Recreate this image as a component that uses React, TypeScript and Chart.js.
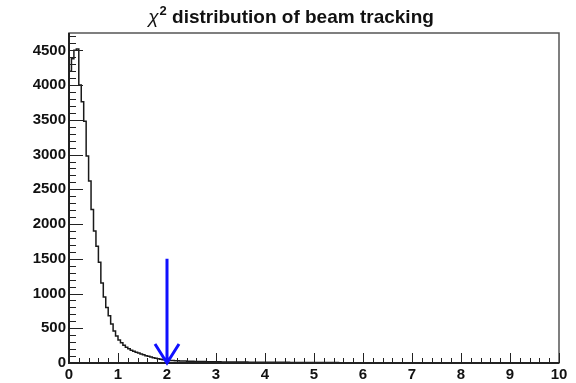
import React, { useEffect, useRef } from "react";
import { Chart, registerables } from "chart.js";

Chart.register(...registerables);

const TITLE_SYMBOL = "χ";
const TITLE_SUP = "2";
const TITLE_REST = " distribution of beam tracking";

// histogram: 200 bins of width 0.05 from 0 to 10
const BIN_LOW = 0;
const BIN_WIDTH = 0.05;
const counts: number[] = [
  4000, 4200, 4380, 4500, 4520, 4000, 3760, 3480, 2980, 2620,
  2210, 1900, 1680, 1450, 1150, 950, 800, 680, 560, 460,
  390, 330, 290, 255, 228, 205, 185, 168, 155, 143,
  130, 118, 106, 96, 86, 77, 68, 60, 53, 47,
  43, 40, 37, 35, 33, 31, 29, 28, 27, 26,
  25, 24, 23, 22, 21, 21, 20, 19, 19, 18,
  18, 17, 17, 16, 16, 15, 15, 15, 14, 14,
  14, 13, 13, 13, 12, 12, 12, 12, 11, 11,
  11, 11, 10, 10, 10, 10, 9, 9, 9, 9,
  9, 8, 8, 8, 8, 8, 8, 7, 7, 7,
  7, 7, 7, 6, 6, 6, 6, 6, 6, 6,
  6, 5, 5, 5, 5, 5, 5, 5, 5, 5,
  5, 4, 4, 4, 4, 4, 4, 4, 4, 4,
  4, 4, 3, 3, 3, 3, 3, 3, 3, 3,
  3, 3, 3, 3, 3, 3, 2, 2, 2, 2,
  2, 2, 2, 2, 2, 2, 2, 2, 2, 2,
  2, 2, 2, 2, 1, 1, 2, 1, 1, 1,
  1, 1, 1, 1, 1, 1, 1, 1, 1, 1,
  1, 1, 1, 1, 1, 1, 1, 1, 1, 0,
  1, 1, 0, 1, 1, 0, 1, 0, 1, 1,
];

const X_MIN = 0;
const X_MAX = 10;
const Y_MIN = 0;
const Y_MAX = 4750;

const xTicks: number[] = [0, 1, 2, 3, 4, 5, 6, 7, 8, 9, 10];
const xMinorStep = 0.2;
const yTicks: number[] = [0, 500, 1000, 1500, 2000, 2500, 3000, 3500, 4000, 4500];
const yMinorStep = 100;

// cut arrow
const ARROW_X = 2;
const ARROW_TOP = 1500;
const ARROW_BOTTOM = 0;

const FAMILY = "'Liberation Sans', Arial, sans-serif";
const TICK_FONT = { family: FAMILY, size: 15, weight: "bold" as const };

const framePlugin = {
  id: "rootFrame",
  afterDatasetsDraw(chart: any) {
    const { ctx, chartArea: a, scales } = chart;
    const xs = scales.x;
    const ys = scales.y;
    ctx.save();
    // frame
    ctx.strokeStyle = "#555";
    ctx.lineWidth = 1.5;
    ctx.strokeRect(a.left, a.top, a.right - a.left, a.bottom - a.top);
    // axes (thicker)
    ctx.strokeStyle = "#222";
    ctx.lineWidth = 2;
    ctx.beginPath();
    ctx.moveTo(a.left, a.top);
    ctx.lineTo(a.left, a.bottom);
    ctx.lineTo(a.right, a.bottom);
    ctx.stroke();

    // ticks (inward)
    ctx.lineWidth = 1;
    ctx.strokeStyle = "#222";
    ctx.beginPath();
    const nxMinor = Math.round((X_MAX - X_MIN) / xMinorStep);
    for (let i = 0; i <= nxMinor; i++) {
      const v = X_MIN + i * xMinorStep;
      const px = Math.round(xs.getPixelForValue(v)) + 0.5;
      const major = xTicks.some((t) => Math.abs(t - v) < 1e-6);
      const len = major ? 10 : 5;
      ctx.moveTo(px, a.bottom);
      ctx.lineTo(px, a.bottom - len);
    }
    const nyMinor = Math.floor((Y_MAX - Y_MIN) / yMinorStep);
    for (let i = 0; i <= nyMinor; i++) {
      const v = Y_MIN + i * yMinorStep;
      const py = Math.round(ys.getPixelForValue(v)) + 0.5;
      const major = yTicks.some((t) => Math.abs(t - v) < 1e-6);
      const len = major ? 14 : 7;
      ctx.moveTo(a.left, py);
      ctx.lineTo(a.left + len, py);
    }
    ctx.stroke();

    // arrow
    const ax = xs.getPixelForValue(ARROW_X);
    const aTop = ys.getPixelForValue(ARROW_TOP);
    const aBot = ys.getPixelForValue(ARROW_BOTTOM);
    ctx.strokeStyle = "#1010ff";
    ctx.lineWidth = 3;
    ctx.lineCap = "butt";
    ctx.beginPath();
    ctx.moveTo(ax, aTop);
    ctx.lineTo(ax, aBot);
    ctx.moveTo(ax - 12, aBot - 19);
    ctx.lineTo(ax, aBot);
    ctx.lineTo(ax + 12, aBot - 19);
    ctx.stroke();

    // title: italic chi, superscript 2, bold rest, centred as a whole
    const fSym = `italic 19px ${FAMILY}`;
    const fSup = `bold 13px ${FAMILY}`;
    const fRest = `bold 19px ${FAMILY}`;
    ctx.font = fSym;
    const wSym = ctx.measureText(TITLE_SYMBOL).width;
    ctx.font = fSup;
    const wSup = ctx.measureText(TITLE_SUP).width;
    ctx.font = fRest;
    const wRest = ctx.measureText(TITLE_REST).width;
    const total = wSym + 1 + wSup + wRest;
    let x = 291 - total / 2;
    const base = 23;
    ctx.fillStyle = "#111";
    ctx.textAlign = "left";
    ctx.textBaseline = "alphabetic";
    ctx.font = fSym;
    ctx.fillText(TITLE_SYMBOL, x, base);
    x += wSym + 1;
    ctx.font = fSup;
    ctx.fillText(TITLE_SUP, x, base - 8);
    x += wSup;
    ctx.font = fRest;
    ctx.fillText(TITLE_REST, x, base);
    ctx.restore();
  },
};

export default function App() {
  const ref = useRef<HTMLCanvasElement | null>(null);
  useEffect(() => {
    if (!ref.current) return;
    const points: { x: number; y: number }[] = [{ x: BIN_LOW, y: 0 }];
    counts.forEach((c, i) => points.push({ x: BIN_LOW + i * BIN_WIDTH, y: c }));
    points.push({ x: BIN_LOW + counts.length * BIN_WIDTH, y: counts[counts.length - 1] });

    const chart = new Chart(ref.current, {
      type: "line",
      data: {
        datasets: [
          {
            data: points,
            stepped: "after",
            borderColor: "#1a1a1a",
            borderWidth: 1.5,
            pointRadius: 0,
            fill: false,
          } as any,
        ],
      },
      options: {
        responsive: false,
        animation: false,
        layout: { padding: { top: 33, right: 17, left: 0, bottom: 0 } },
        plugins: {
          legend: { display: false },
          title: { display: false },
          tooltip: { enabled: false },
        },
        scales: {
          x: {
            type: "linear",
            min: X_MIN,
            max: X_MAX,
            grid: { display: false, drawTicks: false },
            border: { display: false },
            ticks: {
              color: "#111",
              font: TICK_FONT,
              padding: 3,
              maxRotation: 0,
              autoSkip: false,
              callback: (v: any) => String(v),
            },
            afterBuildTicks: (s: any) => {
              s.ticks = xTicks.map((v) => ({ value: v }));
            },
            afterFit: (s: any) => {
              s.height = 20;
            },
          },
          y: {
            type: "linear",
            min: Y_MIN,
            max: Y_MAX,
            grid: { display: false, drawTicks: false },
            border: { display: false },
            ticks: {
              color: "#111",
              font: TICK_FONT,
              padding: 3,
              autoSkip: false,
              callback: (v: any) => String(v),
            },
            afterBuildTicks: (s: any) => {
              s.ticks = yTicks.map((v) => ({ value: v }));
            },
            afterFit: (s: any) => {
              s.width = 69;
            },
          },
        },
      } as any,
      plugins: [framePlugin],
    });
    return () => chart.destroy();
  }, []);

  return (
    <div style={{ position: "absolute", left: 0, top: 0, width: 576, height: 383, background: "#fff" }}>
      <canvas ref={ref} width={576} height={383} style={{ display: "block" }} />
    </div>
  );
}
